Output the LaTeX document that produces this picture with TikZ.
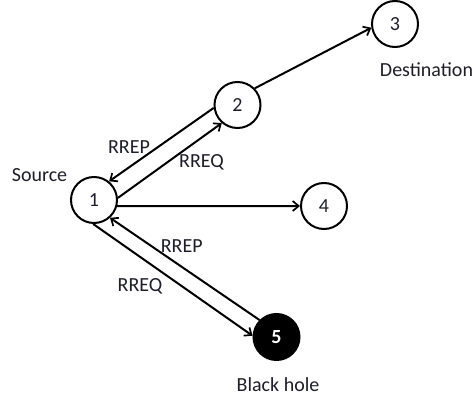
\documentclass[tikz,border=0pt]{standalone}
\usepackage{fontspec}
\setmainfont{Carlito}
\usetikzlibrary{arrows.meta}
\definecolor{txt}{RGB}{30,30,40}
\begin{document}
\begin{tikzpicture}[x=1pt,y=-1pt,
  nd/.style={circle,draw=black,line width=2pt,minimum size=46pt,inner sep=0pt,
    font=\fontsize{20}{23}\selectfont,text=txt},
  bh/.style={nd,fill=black,text=white,font=\fontsize{20}{23}\selectfont\bfseries},
  lbl/.style={anchor=base,inner sep=0pt,font=\fontsize{20}{23}\selectfont,text=txt},
  arr/.style={line width=2pt,-{Straight Barb[length=6pt,width=10pt,line width=1.7pt]}}]
\useasboundingbox (0,0) rectangle (474,398);
\node[nd] (n1) at (94,200) {1};
\node[nd] (n2) at (237.5,105) {2};
\node[nd] (n3) at (395,24) {3};
\node[nd] (n4) at (324,206) {4};
\node[bh] (n5) at (276.5,337) {5};
\node[lbl] (src) at (39.5,182) {Source};
\node[lbl] (dst) at (426.5,76.7) {Destination};
\node[lbl] (blk) at (278,391.7) {Black hole};
\node[lbl] (l1) at (129,153.3) {RREP};
\node[lbl] (l2) at (201.5,167.5) {RREQ};
\node[lbl] (l3) at (181.7,253) {RREP};
\node[lbl] (l4) at (140,291.5) {RREQ};
\draw[arr] (n2.44) -- (n3.189);
\draw[arr] (n2.187) -- (n1.51);
\draw[arr] (n1.5) -- (n2.229);
\draw[arr] (n1.-15) -- (n4.180);
\draw[arr] (n1.-92) -- (n5.177.6);
\draw[arr] (n5.135.7) -- (n1.-48.4);
\end{tikzpicture}
\end{document}
